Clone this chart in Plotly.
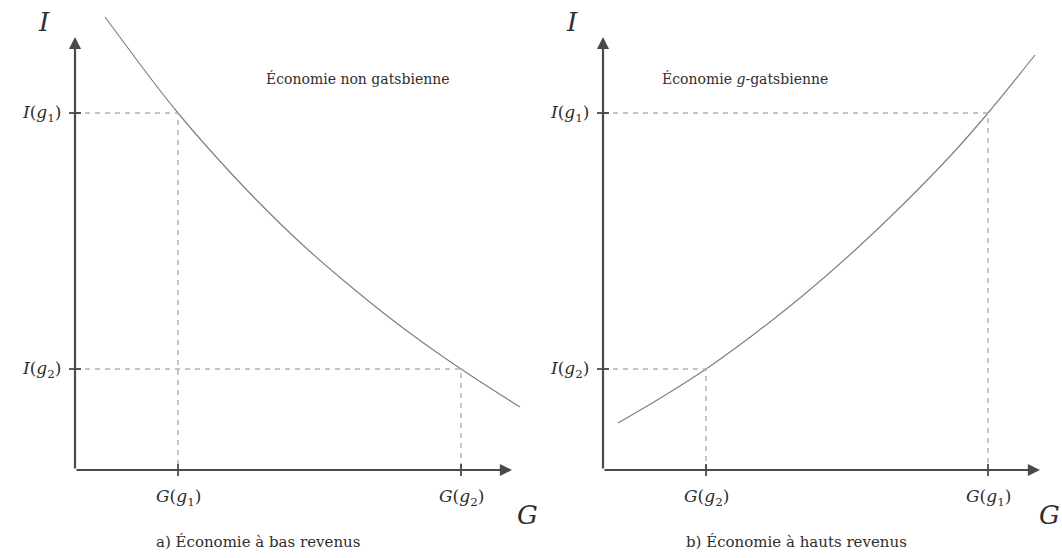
import plotly.graph_objects as go

# Panel a) low-income economy: decreasing I(G) curve
low_G = [0.30, 0.80, 1.03, 1.30, 1.80, 2.30, 2.80, 3.30, 3.86, 4.45]
low_I = [4.53, 3.86, 3.57, 3.255, 2.715, 2.23, 1.80, 1.405, 1.01, 0.63]
low_marks_G = [1.03, 3.86]   # G(g1), G(g2)
low_marks_I = [3.57, 1.01]   # I(g1), I(g2)
low_G_labels = ["1", "2"]
low_I_labels = ["1", "2"]

# Panel b) high-income economy: increasing I(G) curve
high_G = [0.15, 0.60, 1.03, 1.50, 2.00, 2.50, 3.00, 3.50, 3.85, 4.32]
high_I = [0.47, 0.735, 1.01, 1.35, 1.745, 2.18, 2.655, 3.17, 3.57, 4.15]
high_marks_G = [1.03, 3.85]  # G(g2), G(g1)
high_marks_I = [1.01, 3.57]  # I(g2), I(g1)
high_G_labels = ["2", "1"]
high_I_labels = ["2", "1"]

panel_titles = ["Économie non gatsbienne", "Économie <i>g</i>-gatsbienne"]
captions = ["a) Économie à bas revenus", "b) Économie à hauts revenus"]

SERIF = "DejaVu Serif"
TXT = "#2e2e2e"
CURVE = "#808080"
DASH = "#b0b0b0"
AXIS = "#4a4a4a"

fig = go.Figure()

panels = [
    dict(G=low_G, I=low_I, mG=low_marks_G, mI=low_marks_I, gl=low_G_labels, il=low_I_labels,
         xa="x", ya="y", title=panel_titles[0], cap=captions[0], tx=2.83, capx=1.83, gx_name=4.52),
    dict(G=high_G, I=high_I, mG=high_marks_G, mI=high_marks_I, gl=high_G_labels, il=high_I_labels,
         xa="x2", ya="y2", title=panel_titles[1], cap=captions[1], tx=1.42, capx=1.93, gx_name=4.46),
]

AX_X_END = 4.37
AX_Y_END = 4.33

for p in panels:
    xa, ya = p["xa"], p["ya"]
    # curve
    fig.add_trace(go.Scatter(x=p["G"], y=p["I"], mode="lines", xaxis=xa, yaxis=ya,
                             line=dict(color=CURVE, width=1.2, shape="spline", smoothing=1.0),
                             hoverinfo="skip", showlegend=False))
    # dashed guides from the axes to the curve
    for gx, iy in zip(p["mG"], p["mI"]):
        fig.add_trace(go.Scatter(x=[0, gx, gx], y=[iy, iy, 0], mode="lines", xaxis=xa, yaxis=ya,
                                 line=dict(color=DASH, width=1.4, dash="5px,5px"),
                                 hoverinfo="skip", showlegend=False))
    # axes with arrow heads
    fig.add_annotation(x=AX_X_END, y=0, ax=0, ay=0, xref=xa, yref=ya, axref=xa, ayref=ya,
                       showarrow=True, arrowhead=2, arrowsize=1.1, arrowwidth=2.2,
                       arrowcolor=AXIS, text="")
    fig.add_annotation(x=0, y=AX_Y_END, ax=0, ay=0, xref=xa, yref=ya, axref=xa, ayref=ya,
                       showarrow=True, arrowhead=2, arrowsize=1.1, arrowwidth=2.2,
                       arrowcolor=AXIS, text="")
    # tick marks
    for gx in p["mG"]:
        fig.add_shape(type="line", xref=xa, yref=ya, x0=gx, x1=gx, y0=-0.06, y1=0.06,
                      line=dict(color="#333", width=1.6))
    for iy in p["mI"]:
        fig.add_shape(type="line", xref=xa, yref=ya, x0=-0.06, x1=0.06, y0=iy, y1=iy,
                      line=dict(color="#333", width=1.6))
    # tick labels
    for gx, lab in zip(p["mG"], p["gl"]):
        fig.add_annotation(x=gx, y=-0.27, xref=xa, yref=ya, showarrow=False,
                           text=f"<i>G</i>(<i>g</i><sub>{lab}</sub>)",
                           font=dict(family=SERIF, size=17, color=TXT))
    for iy, lab in zip(p["mI"], p["il"]):
        fig.add_annotation(x=-0.12, y=iy, xref=xa, yref=ya, showarrow=False, xanchor="right",
                           text=f"<i>I</i>(<i>g</i><sub>{lab}</sub>)",
                           font=dict(family=SERIF, size=17, color=TXT))
    # axis names
    fig.add_annotation(x=-0.31, y=4.48, xref=xa, yref=ya, showarrow=False,
                       text="<i>I</i>", font=dict(family=SERIF, size=26, color=TXT))
    fig.add_annotation(x=p["gx_name"], y=-0.45, xref=xa, yref=ya, showarrow=False,
                       text="<i>G</i>", font=dict(family=SERIF, size=26, color=TXT))
    # panel title and caption
    fig.add_annotation(x=p["tx"], y=3.92, xref=xa, yref=ya, showarrow=False,
                       text=p["title"], font=dict(family=SERIF, size=14, color=TXT))
    fig.add_annotation(x=p["capx"], y=-0.72, xref=xa, yref=ya, showarrow=False,
                       text=p["cap"], font=dict(family=SERIF, size=15, color=TXT))

hidden = dict(visible=False, showgrid=False, zeroline=False, fixedrange=True)
fig.update_layout(
    width=1062, height=558,
    margin=dict(l=0, r=0, t=0, b=0),
    paper_bgcolor="white", plot_bgcolor="white",
    xaxis=dict(domain=[0, 0.5], range=[-0.75, 4.56], **hidden),
    yaxis=dict(domain=[0, 1], range=[-0.88, 4.70], **hidden),
    xaxis2=dict(domain=[0.5, 1], range=[-0.72, 4.59], **hidden),
    yaxis2=dict(domain=[0, 1], range=[-0.88, 4.70], anchor="x2", **hidden),
    showlegend=False,
)

fig.write_html("out.html")
